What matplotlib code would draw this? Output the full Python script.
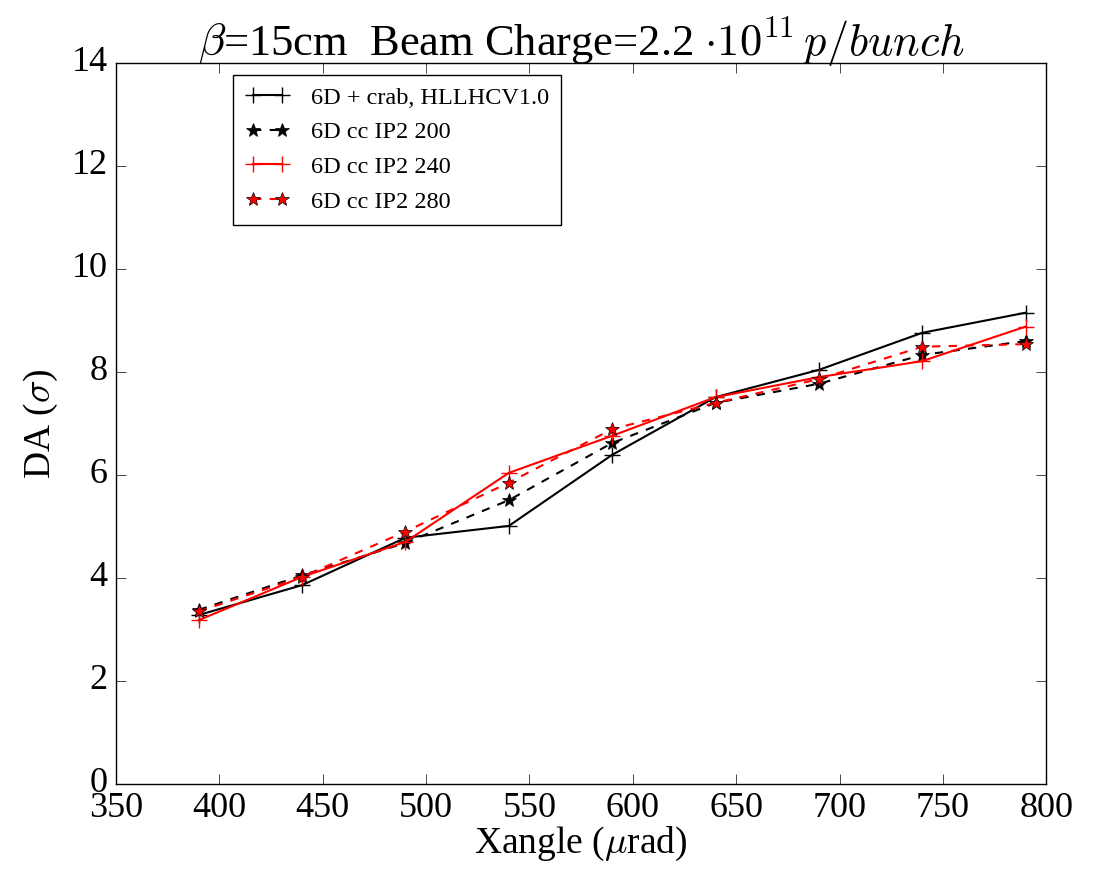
import numpy as np
import matplotlib
matplotlib.use("Agg")
import matplotlib.pyplot as plt

plt.style.use('classic')
plt.rcParams['font.family'] = ['Liberation Serif', 'DejaVu Serif']
plt.rcParams['mathtext.fontset'] = 'cm'

# Crossing angle (urad)
xangle = [390, 440, 490, 540, 590, 640, 690, 740, 790]

# DA (sigma) per configuration
da_crab = [3.28, 3.86, 4.78, 5.01, 6.39, 7.51, 8.04, 8.76, 9.15]
da_ip2_200 = [3.38, 4.05, 4.68, 5.51, 6.62, 7.40, 7.77, 8.33, 8.60]
da_ip2_240 = [3.18, 4.02, 4.70, 6.04, 6.76, 7.51, 7.90, 8.21, 8.88]
da_ip2_280 = [3.35, 4.02, 4.90, 5.85, 6.89, 7.40, 7.86, 8.49, 8.54]

fig = plt.figure(figsize=(10.99, 8.71), dpi=100, facecolor='white')
ax = fig.add_axes([0.1056, 0.1, 0.8464, 0.8277])

ax.plot(xangle, da_crab, color='k', ls='-', lw=1.5, marker='+', ms=12, mew=1,
        label='6D + crab, HLLHCV1.0')
ax.plot(xangle, da_ip2_200, color='k', ls='--', lw=1.5, marker='*', ms=10,
        mfc='k', mec='k', label='6D cc IP2 200')
ax.plot(xangle, da_ip2_240, color='r', ls='-', lw=1.5, marker='+', ms=12, mew=1,
        mec='r', label='6D cc IP2 240')
ax.plot(xangle, da_ip2_280, color='r', ls='--', lw=1.5, marker='*', ms=10,
        mfc='r', mec='k', label='6D cc IP2 280')

ax.set_xlim(350, 800)
ax.set_ylim(0, 14)
ax.set_xticks(np.arange(350, 801, 50))
ax.set_yticks(np.arange(0, 15, 2))
ax.tick_params(labelsize=26, length=7, direction='in', top=True, right=True, pad=6)

ax.set_xlabel(r'Xangle ($\mu$rad)', fontsize=27, labelpad=0)
ax.set_ylabel(r'DA ($\sigma$)', fontsize=27, labelpad=8)
ax.set_title(r'$\beta$=15cm  Beam Charge=2.2 $\cdot 10^{11}\,p/bunch$', fontsize=32, y=1.0)

leg = ax.legend(loc='upper left', bbox_to_anchor=(0.126, 0.984), fontsize=17.5,
                numpoints=2, handlelength=1.8, handletextpad=0.9, labelspacing=0.52,
                borderpad=0.5, borderaxespad=0, frameon=True, fancybox=False)
leg.get_frame().set_edgecolor('k')

fig.savefig('out.png', dpi=100, facecolor='white')
